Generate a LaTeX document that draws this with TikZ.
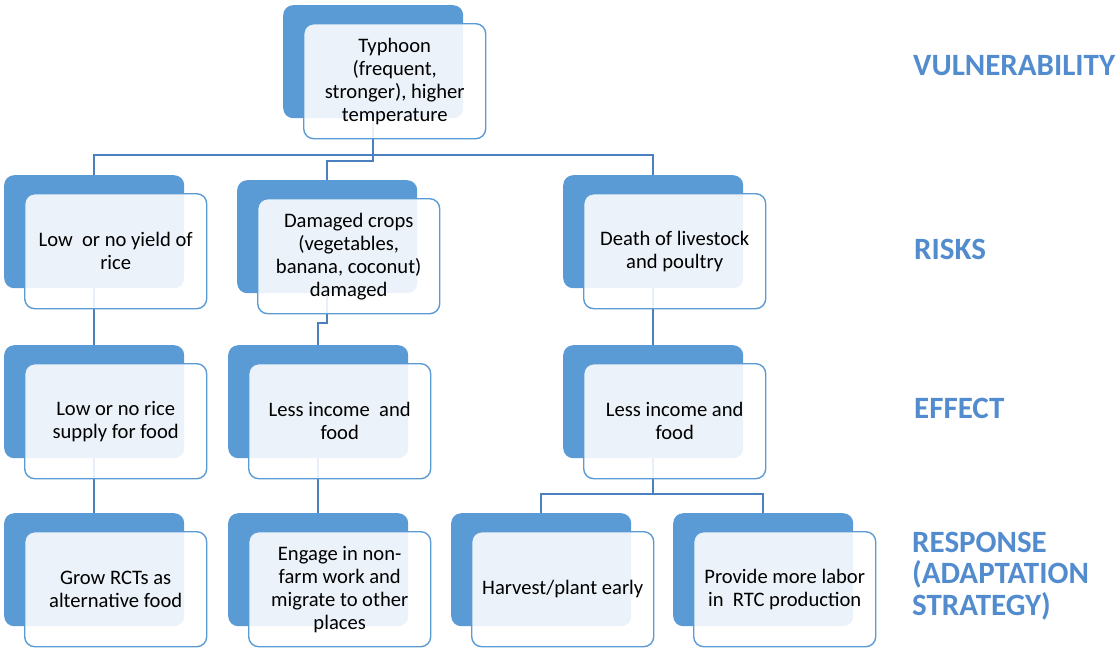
\documentclass[tikz,border=0pt]{standalone}
\usepackage{fontspec}
\setmainfont{Carlito}
\newfontfamily\labfont{Carlito}
\pgfdeclarelayer{conn}
\pgfdeclarelayer{bk}
\pgfsetlayers{conn,bk,main}
\definecolor{boxblue}{RGB}{91,155,213}
\definecolor{linkblue}{RGB}{74,128,192}
\definecolor{labblue}{RGB}{82,140,206}
\tikzset{
  backbox/.style={anchor=north west, rectangle, rounded corners=10pt, fill=boxblue,
    minimum width=180pt, minimum height=113pt, inner sep=0pt},
  frontbox/.style={anchor=north west, rectangle, rounded corners=10pt, draw=boxblue,
    line width=1.4pt, fill=white, fill opacity=0.88, text opacity=1,
    minimum width=182pt, minimum height=115pt, inner sep=2pt, align=center,
    font=\fontsize{20.6}{23}\selectfont, text=black},
  conn/.style={draw=linkblue, line width=1.8pt},
  sidelab/.style={anchor=base west, inner sep=0pt, align=left, text=labblue,
    font=\labfont\bfseries\fontsize{31}{31.5}\selectfont}
}
\newcommand\elem[4]{%
  \begin{pgfonlayer}{bk}\node[backbox] (#1-b) at (#2,#3) {};\end{pgfonlayer}
  \node[frontbox] (#1) at (#2+20,#3+18) {#4};}
\begin{document}
\begin{tikzpicture}[x=1pt,y=-1pt]
\useasboundingbox (0,0) rectangle (1119,648);
\elem{T}{283}{5}{Typhoon\\(frequent,\\stronger), higher\\temperature}
\elem{R1}{4}{175}{Low\ \ or no yield of\\rice}
\elem{R2}{237}{180}{Damaged crops\\(vegetables,\\banana, coconut)\\damaged}
\elem{R3}{563}{175}{Death of livestock\\and poultry}
\elem{E1}{4}{345}{Low or no rice\\supply for food}
\elem{E2}{228}{345}{Less income\ \ and\\food}
\elem{E3}{563}{345}{Less income and\\food}
\elem{S1}{4}{513}{Grow RCTs as\\alternative food}
\elem{S2}{228}{513}{Engage in non-\\farm work and\\migrate to other\\places}
\elem{S3}{451}{513}{Harvest/plant early}
\elem{S4}{673}{513}{Provide more labor\\in\ \ RTC production}
\coordinate (busA) at (0,155);
\coordinate (busB) at (0,161);
\coordinate (busC) at (0,323);
\coordinate (busD) at (0,494);
\begin{pgfonlayer}{conn}
\draw[conn] (R1-b.north) -- (R1-b.north |- busA) -- (R3-b.north |- busA) -- (R3-b.north);
\draw[conn] (T-b.south) -- (T-b.south |- busB) -- (R2-b.north |- busB) -- (R2-b.north);
\draw[conn] (R1-b.south) -- (E1-b.north);
\draw[conn] (R2-b.south) -- (R2-b.south |- busC) -- (E2-b.north |- busC) -- (E2-b.north);
\draw[conn] (R3-b.south) -- (E3-b.north);
\draw[conn] (E1-b.south) -- (S1-b.north);
\draw[conn] (E2-b.south) -- (S2-b.north);
\draw[conn] (E3-b.south) -- (E3-b.south |- busD);
\draw[conn] (S3-b.north) -- (S3-b.north |- busD) -- (S4-b.north |- busD) -- (S4-b.north);
\end{pgfonlayer}
\node[sidelab] (L1) at (913,75) {VULNERABILITY};
\node[sidelab] (L2) at (914,259) {RISKS};
\node[sidelab] (L3) at (914,418) {EFFECT};
\node[sidelab] (L4) at (912,615) {RESPONSE\\(ADAPTATION\\STRATEGY)};
\end{tikzpicture}
\end{document}
